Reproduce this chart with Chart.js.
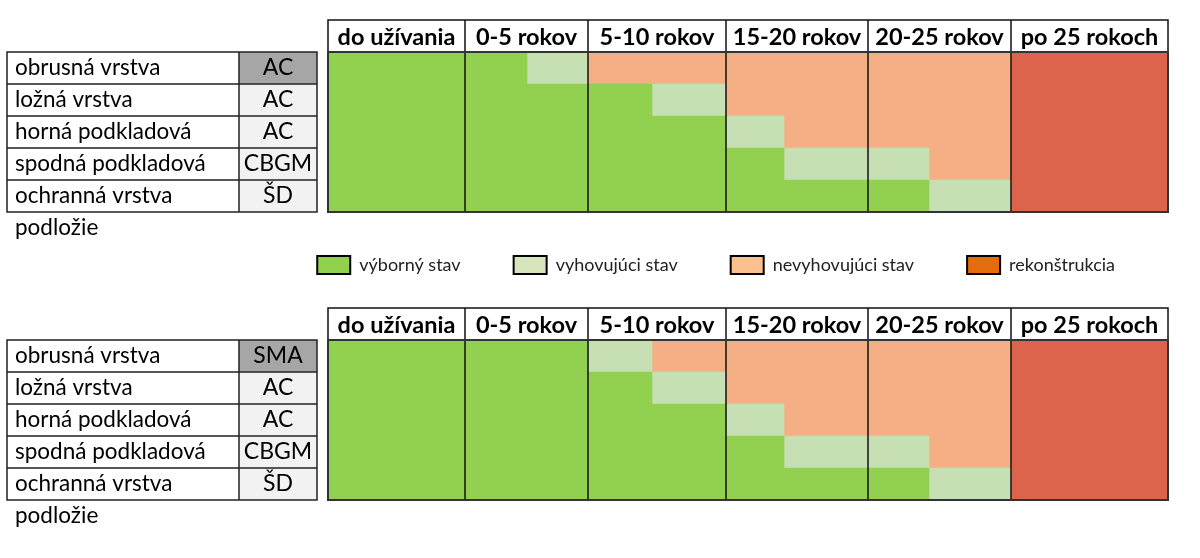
<!DOCTYPE html>
<html>
<head>
<meta charset="utf-8">
<script src="https://cdn.jsdelivr.net/npm/chart.js@4.4.1/dist/chart.umd.min.js"></script>
<style>
html, body { margin: 0; padding: 0; background: #fff; }
body { width: 1200px; height: 558px; position: relative; overflow: hidden; }
canvas { position: absolute; left: 0; }
#chartA { top: 0; }
#chartB { top: 203px; }
</style>
</head>
<body>
<canvas id="chartA" width="1200" height="250"></canvas>
<canvas id="chartB" width="1200" height="355"></canvas>
<script>
// ---------------- data ----------------
const LAYERS = ['obrusná vrstva', 'ložná vrstva', 'horná podkladová', 'spodná podkladová', 'ochranná vrstva'];
const SUBGRADE = 'podložie';
const PERIODS = ['do užívania', '0-5 rokov', '5-10 rokov', '15-20 rokov', '20-25 rokov', 'po 25 rokoch'];
const STATES = ['výborný stav', 'vyhovujúci stav', 'nevyhovujúci stav', 'rekonštrukcia'];
const MATERIALS_AC = ['AC', 'AC', 'AC', 'CBGM', 'ŠD'];
const MATERIALS_SMA = ['SMA', 'AC', 'AC', 'CBGM', 'ŠD'];
// state index (0..3 = STATES) per half-period (2 halves per period), one row per layer
const CONDITION_AC = [
  [0, 0, 0, 1, 2, 2, 2, 2, 2, 2, 3, 3],
  [0, 0, 0, 0, 0, 1, 2, 2, 2, 2, 3, 3],
  [0, 0, 0, 0, 0, 0, 1, 2, 2, 2, 3, 3],
  [0, 0, 0, 0, 0, 0, 0, 1, 1, 2, 3, 3],
  [0, 0, 0, 0, 0, 0, 0, 0, 0, 1, 3, 3]
];
const CONDITION_SMA = [
  [0, 0, 0, 0, 1, 2, 2, 2, 2, 2, 3, 3],
  [0, 0, 0, 0, 0, 1, 2, 2, 2, 2, 3, 3],
  [0, 0, 0, 0, 0, 0, 1, 2, 2, 2, 3, 3],
  [0, 0, 0, 0, 0, 0, 0, 1, 1, 2, 3, 3],
  [0, 0, 0, 0, 0, 0, 0, 0, 0, 1, 3, 3]
];

// ---------------- styles / layout ----------------
const CELL_COLORS = ['#92D050', '#C6E0B4', '#F4B084', '#DC634C'];
const LEGEND_COLORS = ['#92D050', '#D8E4BC', '#FAC090', '#E46C0A'];
const CODE_BG = ['#A6A6A6', '#F2F2F2'];
const HALF_WIDTHS = [68.5, 68.5, 62, 61, 64, 74, 58, 84, 61, 82, 78.5, 78.5]; // relative widths of half-period sub-columns
const HALVES = HALF_WIDTHS.length / PERIODS.length;
const LEFT = { x0: 7, split: 239, x1: 317 };
const HEADER_H = 32;
const FONT = 'Lato';
const HEAD_SIZE = 23.5;
const NAME_SIZE = 22.5;
const CODE_SIZE = 23;

// piecewise mapping value -> decimal along the axis
const EDGES = (() => {
  const tot = HALF_WIDTHS.reduce((a, b) => a + b, 0);
  let acc = 0; const e = [0];
  HALF_WIDTHS.forEach(w => { acc += w; e.push(acc / tot); });
  return e;
})();
function valueToDecimal(v) {
  const n = HALF_WIDTHS.length;
  const i = Math.max(0, Math.min(n - 1, Math.floor(v)));
  return EDGES[i] + (v - i) * (EDGES[i + 1] - EDGES[i]);
}
function decimalToValue(d) {
  const n = HALF_WIDTHS.length;
  let i = 0;
  while (i < n - 1 && d > EDGES[i + 1]) i++;
  return i + (d - EDGES[i]) / (EDGES[i + 1] - EDGES[i]);
}
const PERIOD_TICKS = PERIODS.map((p, k) =>
  decimalToValue((EDGES[k * HALVES] + EDGES[(k + 1) * HALVES]) / 2));

class PeriodScale extends Chart.LinearScale {
  getPixelForValue(value) {
    if (value === null || value === undefined || isNaN(value)) return NaN;
    return this.getPixelForDecimal(valueToDecimal(value));
  }
  getValueForPixel(pixel) {
    return decimalToValue(this.getDecimalForPixel(pixel));
  }
}
PeriodScale.id = 'period';
PeriodScale.defaults = Chart.LinearScale.defaults;
Chart.register(PeriodScale);

function buildDatasets(cond) {
  return STATES.map((label, s) => ({
    label,
    data: cond.map(row => {
      const first = row.indexOf(s), last = row.lastIndexOf(s);
      return first < 0 ? null : [first, last + 1];
    }),
    backgroundColor: CELL_COLORS[s],
    borderWidth: 0,
    grouped: false,
    barPercentage: 1,
    categoryPercentage: 1
  }));
}

const tableDecor = {
  id: 'tableDecor',
  beforeDraw(chart, args, opts) {
    const { ctx, chartArea: a, scales: { y } } = chart;
    const rowH = (a.bottom - a.top) / LAYERS.length;
    ctx.save();
    ctx.fillStyle = '#fff';
    ctx.fillRect(a.left, a.top - HEADER_H, a.right - a.left, HEADER_H);
    opts.codes.forEach((c, i) => {
      const top = a.top + i * rowH;
      ctx.fillStyle = i === 0 ? CODE_BG[0] : CODE_BG[1];
      ctx.fillRect(LEFT.split, top, LEFT.x1 - LEFT.split, rowH);
      ctx.fillStyle = '#000';
      ctx.font = CODE_SIZE + 'px ' + FONT;
      ctx.textAlign = 'center';
      ctx.textBaseline = 'middle';
      ctx.fillText(c, (LEFT.split + LEFT.x1) / 2, y.getPixelForValue(i));
    });
    ctx.restore();
  },
  afterDatasetsDraw(chart) {
    const { ctx, chartArea: a, scales: { x } } = chart;
    ctx.save();
    ctx.strokeStyle = '#111';
    ctx.lineWidth = 1.5;
    ctx.strokeRect(a.left, a.top - HEADER_H, a.right - a.left, HEADER_H);
    ctx.beginPath();
    for (let p = 1; p < PERIODS.length; p++) {
      const px = Math.round(x.getPixelForValue(p * HALVES));
      ctx.moveTo(px, a.top - HEADER_H);
      ctx.lineTo(px, a.bottom);
    }
    ctx.stroke();
    ctx.strokeStyle = '#333';
    ctx.lineWidth = 2;
    ctx.strokeRect(a.left, a.top, a.right - a.left, a.bottom - a.top);
    ctx.restore();
  },
  afterDraw(chart) {
    const { ctx, chartArea: a, scales: { y } } = chart;
    const rowH = (a.bottom - a.top) / LAYERS.length;
    ctx.save();
    ctx.strokeStyle = '#222';
    ctx.lineWidth = 1.5;
    ctx.strokeRect(LEFT.x0, a.top, LEFT.x1 - LEFT.x0, a.bottom - a.top);
    ctx.beginPath();
    for (let i = 1; i < LAYERS.length; i++) {
      const yy = Math.round(a.top + i * rowH);
      ctx.moveTo(LEFT.x0, yy); ctx.lineTo(LEFT.x1, yy);
    }
    ctx.moveTo(LEFT.split, a.top); ctx.lineTo(LEFT.split, a.bottom);
    ctx.stroke();
    ctx.fillStyle = '#000';
    ctx.font = NAME_SIZE + 'px ' + FONT;
    ctx.textAlign = 'left';
    ctx.textBaseline = 'middle';
    ctx.fillText(SUBGRADE, y.left, a.bottom + rowH / 2);
    ctx.restore();
  }
};

function xScale(h) {
  return {
    type: 'period', position: 'top', min: 0, max: HALF_WIDTHS.length,
    grid: { display: false }, border: { display: false },
    afterBuildTicks: axis => { axis.ticks = PERIOD_TICKS.map(v => ({ value: v })); },
    afterFit: axis => { axis.height = h; },
    ticks: {
      autoSkip: false, maxRotation: 0, minRotation: 0, padding: -8, color: '#000',
      font: { family: FONT, size: HEAD_SIZE, weight: 'bold' },
      callback: (v, i) => PERIODS[i]
    }
  };
}
function yScale() {
  return {
    type: 'category', position: 'left', offset: true,
    grid: { display: false }, border: { display: false },
    afterFit: axis => { axis.width = 313; },
    ticks: { crossAlign: 'far', padding: 0, autoSkip: false, color: '#000', font: { family: FONT, size: NAME_SIZE } }
  };
}

new Chart(document.getElementById('chartA'), {
  type: 'bar',
  data: { labels: LAYERS, datasets: buildDatasets(CONDITION_AC) },
  options: {
    indexAxis: 'y', responsive: false, animation: false,
    layout: { padding: { left: 15, right: 32, top: 20, bottom: 38 } },
    scales: { x: xScale(32), y: yScale() },
    plugins: { legend: { display: false }, tableDecor: { codes: MATERIALS_AC } }
  },
  plugins: [tableDecor]
});

new Chart(document.getElementById('chartB'), {
  type: 'bar',
  data: { labels: LAYERS, datasets: buildDatasets(CONDITION_SMA) },
  options: {
    indexAxis: 'y', responsive: false, animation: false,
    layout: { padding: { left: 15, right: 32, top: 0, bottom: 58 } },
    scales: { x: xScale(56), y: yScale() },
    plugins: {
      legend: {
        display: true, position: 'top', align: 'end',
        labels: {
          boxWidth: 33, boxHeight: 18, padding: 53, color: '#222',
          font: { family: FONT, size: 18 },
          generateLabels: () => STATES.map((s, i) => ({
            text: s, fillStyle: LEGEND_COLORS[i], strokeStyle: '#000', lineWidth: 2,
            hidden: false, datasetIndex: i, fontColor: '#222'
          }))
        },
        onClick: () => {}
      },
      tableDecor: { codes: MATERIALS_SMA }
    }
  },
  plugins: [tableDecor]
});
</script>
</body>
</html>
